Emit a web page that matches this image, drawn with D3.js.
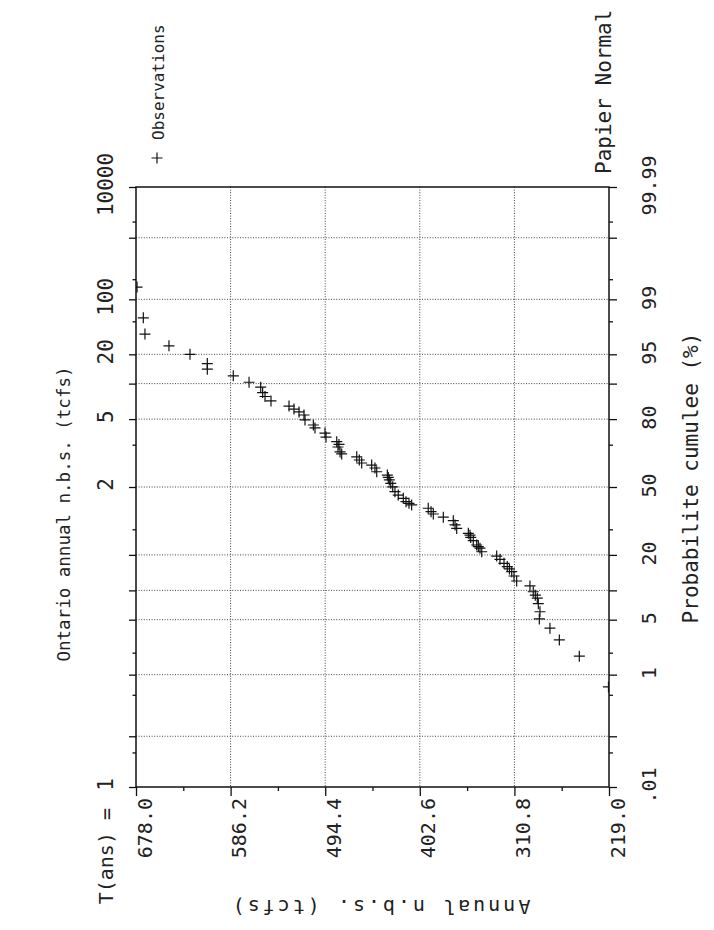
<!DOCTYPE html>
<html><head><meta charset="utf-8">
<script src="https://cdn.jsdelivr.net/npm/d3@7"></script>
<style>
body{margin:0;background:#fff;}
svg text{font-family:"DejaVu Sans Mono",monospace;fill:#222;}
</style></head>
<body><svg id="chart" width="714" height="930"></svg>
<script>
// ---- data ----
const values = [670.9,669.3,646.0,625.6,608.8,608.8,583.6,568.3,557.0,555.1,552.8,547.0,529.5,524.7,519.8,515.0,514.0,505.9,504.3,494.6,493.6,483.2,481.0,482.0,480.0,478.4,463.8,461.3,459.0,449.3,446.1,444.4,434.1,433.2,432.2,430.8,428.9,426.7,423.5,418.6,416.0,413.1,410.5,394.4,391.7,389.5,379.8,370.1,368.4,366.8,355.5,353.9,353.2,350.7,347.4,345.8,344.2,342.5,328.0,324.8,320.9,317.7,315.6,313.4,311.2,308.6,295.7,292.5,290.5,288.6,287.6,286.0,286.6,276.3,267.2,247.8,677.0,219.5];
const probs  = [98.2,97.1,96.0,95.0,93.7,92.8,91.6,90.3,89.2,87.9,86.9,85.7,84.2,83.3,82.4,81.4,79.7,77.9,76.8,74.8,73.2,71.3,70.1,69.0,66.8,65.9,64.6,63.1,61.7,60.7,59.3,57.5,55.9,54.7,53.5,51.8,50.1,47.7,46.0,44.4,42.8,42.0,41.2,39.6,38.0,36.9,35.4,33.8,31.9,30.4,28.3,27.5,26.6,25.3,23.6,23.0,22.4,21.1,19.6,18.5,17.2,16.2,15.5,14.7,13.5,12.2,11.0,9.7,9.0,8.4,7.4,6.1,5.1,4.0,2.9,1.8,99.34,0.66];
const valueTicks = [678.0,586.2,494.4,402.6,310.8,219.0];
const valueMinorTicks = [632.1,540.3,448.5,356.7,264.9];
const probLabelTicks = [0.01,1,5,20,50,80,95,99,99.99];
const probLabels = [".01","1","5","20","50","80","95","99","99.99"];
const returnPeriodProbs = [0.01,50,80,95,99,99.99];
const returnPeriodLabels = ["1","2","5","20","100","10000"];
const gridProbs = [0.1,1,5,10,20,50,80,90,95,99,99.9];
const majorTickProbs = [0.01,0.1,1,5,10,20,50,80,90,95,99,99.9,99.99];
const minorTickProbs = [0.05,0.5,2,30,70,98,99.5,99.95];

// ---- inverse normal ----
function normInv(p){
 const a=[-3.969683028665376e+01,2.209460984245205e+02,-2.759285104469687e+02,1.383577518672690e+02,-3.066479806614716e+01,2.506628277459239e+00];
 const b=[-5.447609879822406e+01,1.615858368580409e+02,-1.556989798598866e+02,6.680131188771972e+01,-1.328068155288572e+01];
 const c=[-7.784894002430293e-03,-3.223964580411365e-01,-2.400758277161838e+00,-2.549732539343734e+00,4.374664141464968e+00,2.938163982698783e+00];
 const d=[7.784695709041462e-03,3.224671290700398e-01,2.445134137142996e+00,3.754408661907416e+00];
 const pl=0.02425, ph=1-pl; let q,r;
 if(p<pl){q=Math.sqrt(-2*Math.log(p));return (((((c[0]*q+c[1])*q+c[2])*q+c[3])*q+c[4])*q+c[5])/((((d[0]*q+d[1])*q+d[2])*q+d[3])*q+1);}
 if(p<=ph){q=p-0.5;r=q*q;return (((((a[0]*r+a[1])*r+a[2])*r+a[3])*r+a[4])*r+a[5])*q/(((((b[0]*r+b[1])*r+b[2])*r+b[3])*r+b[4])*r+1);}
 q=Math.sqrt(-2*Math.log(1-p));return -(((((c[0]*q+c[1])*q+c[2])*q+c[3])*q+c[4])*q+c[5])/((((d[0]*q+d[1])*q+d[2])*q+d[3])*q+1);
}

const L=136,R=609,T=187,B=787;
const svg=d3.select("#chart");
svg.append("rect").attr("width",714).attr("height",930).attr("fill","#fff");

const x=d3.scaleLinear().domain([678,219]).range([L,R]);
const zScale=d3.scaleLinear().domain([normInv(0.0001),normInv(0.9999)]).range([B,T]);
const z=p=>normInv(p/100);

// grid
const grid=svg.append("g").attr("stroke","#444").attr("stroke-width",1).attr("stroke-dasharray","1,1.6");
grid.selectAll("line.h").data(gridProbs).join("line").attr("class","h")
  .attr("x1",L).attr("x2",R).attr("y1",d=>zScale(z(d))).attr("y2",d=>zScale(z(d)));
grid.selectAll("line.v").data(valueTicks.slice(1,-1)).join("line").attr("class","v")
  .attr("y1",T).attr("y2",B).attr("x1",d=>x(d)).attr("x2",d=>x(d));

function styleAxis(g){g.select(".domain").remove();g.selectAll(".tick line").attr("stroke","#111").attr("stroke-width",1.3);}

// bottom axis
svg.append("g").attr("transform",`translate(0,${B})`)
  .call(d3.axisBottom(x).tickValues(valueMinorTicks).tickSize(4).tickFormat("")).call(styleAxis);
const bAx=svg.append("g").attr("transform",`translate(0,${B})`)
  .call(d3.axisBottom(x).tickValues(valueTicks).tickSize(9).tickFormat(d3.format(".1f"))).call(styleAxis);
bAx.selectAll(".tick text").attr("x",null).attr("y",null).attr("dy",null)
  .attr("text-anchor","end").attr("font-size",20).attr("transform","translate(15,11) rotate(-90)");

// left axis
svg.append("g").attr("transform",`translate(${L},0)`)
  .call(d3.axisLeft(zScale).tickValues(majorTickProbs.map(z)).tickSize(7).tickFormat("")).call(styleAxis);
svg.append("g").attr("transform",`translate(${L},0)`)
  .call(d3.axisLeft(zScale).tickValues(minorTickProbs.map(z)).tickSize(3.5).tickFormat("")).call(styleAxis);
const lAx=svg.append("g").attr("transform",`translate(${L},0)`)
  .call(d3.axisLeft(zScale).tickValues(returnPeriodProbs.map(z)).tickSize(0)
  .tickFormat((d,i)=>returnPeriodLabels[i])).call(styleAxis);
lAx.selectAll(".tick text").attr("x",null).attr("y",null).attr("dy",null)
  .attr("text-anchor","middle").attr("font-size",21).attr("transform","translate(-23,-3) rotate(-90)");

// right axis
svg.append("g").attr("transform",`translate(${R},0)`)
  .call(d3.axisRight(zScale).tickValues(majorTickProbs.map(z)).tickSize(8).tickFormat("")).call(styleAxis);
svg.append("g").attr("transform",`translate(${R},0)`)
  .call(d3.axisRight(zScale).tickValues(minorTickProbs.map(z)).tickSize(4).tickFormat("")).call(styleAxis);
const rAx=svg.append("g").attr("transform",`translate(${R},0)`)
  .call(d3.axisRight(zScale).tickValues(probLabelTicks.map(z)).tickSize(0)
  .tickFormat((d,i)=>probLabels[i])).call(styleAxis);
rAx.selectAll(".tick text").attr("x",null).attr("y",null).attr("dy",null)
  .attr("text-anchor","middle").attr("font-size",20).attr("transform","translate(47,-2) rotate(-90)");

// frame
svg.append("rect").attr("x",L).attr("y",T).attr("width",R-L).attr("height",B-T)
  .attr("fill","none").attr("stroke","#111").attr("stroke-width",1.5);

// points
svg.append("clipPath").attr("id","clip").append("rect").attr("x",L).attr("y",T).attr("width",R-L).attr("height",B-T);
const cross="M-5.5,0H5.5M0,-5.5V5.5";
svg.append("g").attr("clip-path","url(#clip)").selectAll("path").data(values.map((v,i)=>[v,probs[i]])).join("path")
  .attr("d",cross).attr("transform",d=>`translate(${x(d[0])},${zScale(z(d[1]))})`)
  .attr("fill","none").attr("stroke","#111").attr("stroke-width",1.2);

// texts
function rtext(tx,ty,str,size,anchor,rot){
  return svg.append("text").attr("transform",`translate(${tx},${ty}) rotate(${rot})`)
    .attr("text-anchor",anchor).attr("font-size",size).text(str);
}
rtext(70,514,"Ontario annual n.b.s. (tcfs)",17.5,"middle",-90);
rtext(113,808,"T(ans) =",20,"end",-90);
rtext(611,174,"Papier Normal",21,"start",-90);
rtext(164,140,"Observations",16,"start",-90);
svg.append("path").attr("d",cross).attr("transform","translate(157,158)").attr("fill","none").attr("stroke","#111").attr("stroke-width",1.2);
rtext(698,478,"Probabilite cumulee (%)",21,"middle",-90);
svg.append("text").attr("transform","translate(380,900) rotate(180)").attr("text-anchor","middle")
  .attr("font-size",20).attr("letter-spacing",3).text("Annual  n.b.s. (tcfs)");
</script></body></html>
